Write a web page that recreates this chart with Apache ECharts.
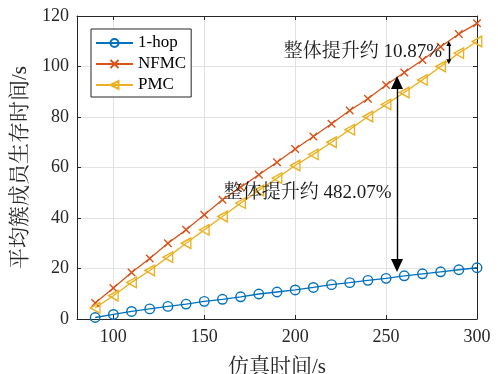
<!DOCTYPE html>
<html><head><meta charset="utf-8">
<script src="https://cdn.jsdelivr.net/npm/echarts@6/dist/echarts.min.js"></script>
<style>html,body{margin:0;padding:0;background:#fff}#c{width:498px;height:374px}</style>
</head><body><div id="c"></div>
<script>
const times = [90,100,110,120,130,140,150,160,170,180,190,200,210,220,230,240,250,260,270,280,290,300];
const hop1 = [0.6,1.8,3.0,4.0,5.0,5.9,7.0,7.8,8.8,9.9,10.7,11.5,12.5,13.6,14.4,15.3,16.1,17.1,17.9,18.7,19.5,20.3];
const nfmc = [6.3,12.3,18.4,24.0,30.0,35.3,41.3,47.2,52.2,57.1,62.1,67.3,72.3,77.3,82.6,87.2,92.7,97.6,102.6,107.8,112.9,117.1];
const pmc  = [4.4,9.2,14.5,19.2,24.5,30.0,35.3,40.6,45.9,50.9,55.8,60.8,65.2,70.0,75.0,80.2,85.0,89.7,94.7,100.0,105.3,109.9];
const seriesNames = ['1-hop','NFMC','PMC'];
const xTicks = [100,150,200,250,300];
const yTicks = [0,20,40,60,80,100,120];
// annotation anchors (data space)
const bigArrow = {x:256, y1:93.7, y2:21.2};
const smallArrow = {x:284.5, y1:109.1, y2:101.9};
const note1 = {x:237.2, y:105.9, text:'整体提升约 10.87%'};
const note2 = {x:206.9, y:50, text:'整体提升约 482.07%'};

const FONT = "'Liberation Serif','Noto Serif CJK SC','Noto Sans CJK SC',serif";
const AX = '#262626';
const colors = ['#0072BD','#D95319','#EDB120'];
const pair = arr => times.map((t,i)=>[t,arr[i]]);

const chart = echarts.init(document.getElementById('c'), null, {renderer:'canvas'});
const commonX = {
  type:'value', min:80, max:300,
  axisLine:{show:true, onZero:false, lineStyle:{color:AX, width:1}},
  axisTick:{show:true, inside:true, length:4, customValues:xTicks, lineStyle:{color:AX}},
  splitLine:{show:false}
};
const commonY = {
  type:'value', min:0, max:120, interval:20,
  axisLine:{show:true, onZero:false, lineStyle:{color:AX, width:1}},
  axisTick:{show:true, inside:true, length:4, lineStyle:{color:AX}},
  splitLine:{show:false}
};
chart.setOption({
  animation:false,
  textStyle:{fontFamily:FONT},
  grid:{left:77, right:21, top:16, bottom:55, show:false, containLabel:false, outerBoundsMode:'none'},
  legend:{
    orient:'vertical', left:91, top:29,
    data:seriesNames,
    itemWidth:37, itemHeight:10, itemGap:3,
    padding:[5,5,3,4],
    backgroundColor:'#fff', borderColor:AX, borderWidth:1,
    textStyle:{fontFamily:FONT, fontSize:17, color:'#000', lineHeight:18}
  },
  xAxis:[
    Object.assign({}, commonX, {
      position:'bottom',
      name:'仿真时间/s', nameLocation:'middle', nameGap:38,
      nameTextStyle:{fontFamily:FONT, fontSize:21, color:AX},
      axisLabel:{customValues:xTicks, fontFamily:FONT, fontSize:18, color:AX, margin:9},
      splitLine:{show:true, lineStyle:{color:'#e2e2e2', width:1}}
    }),
    Object.assign({}, commonX, {position:'top', axisLabel:{show:false}})
  ],
  yAxis:[
    Object.assign({}, commonY, {
      position:'left',
      name:'平均簇成员生存时间/s', nameLocation:'middle', nameGap:46,
      nameTextStyle:{fontFamily:FONT, fontSize:21, color:AX},
      axisLabel:{fontFamily:FONT, fontSize:18, color:AX, margin:8},
      splitLine:{show:true, lineStyle:{color:'#e2e2e2', width:1}}
    }),
    Object.assign({}, commonY, {position:'right', axisLabel:{show:false}})
  ],
  series:[
    {
      name:seriesNames[0], type:'line', data:pair(hop1),
      symbol:'circle', symbolSize:9.5, showAllSymbol:true,
      lineStyle:{color:colors[0], width:1.3},
      itemStyle:{color:'transparent', borderColor:colors[0], borderWidth:1.4}
    },
    {
      name:seriesNames[1], type:'line', data:pair(nfmc),
      symbol:'path://M0,0L10,10M0,10L10,0', symbolSize:7.5, showAllSymbol:true,
      lineStyle:{color:colors[1], width:1.3},
      itemStyle:{color:'transparent', borderColor:colors[1], borderWidth:1.4},
      markLine:{
        silent:true, symbol:['triangle','triangle'], symbolSize:[12,13],
        label:{show:false},
        lineStyle:{color:'#000', width:1.4, type:'solid'},
        data:[[{coord:[bigArrow.x,bigArrow.y1]},{coord:[bigArrow.x,bigArrow.y2]}]]
      },
      markPoint:{
        silent:true, symbol:'circle', symbolSize:0,
        label:{show:true, position:'inside', fontFamily:FONT, fontSize:19, color:'#1a1a1a', formatter:p=>p.name},
        data:[{name:note1.text, coord:[note1.x,note1.y]},{name:note2.text, coord:[note2.x,note2.y]}]
      }
    },
    {
      name:seriesNames[2], type:'line', data:pair(pmc),
      symbol:'path://M0,5L9,0L9,10Z', symbolSize:[9.5,10.5], showAllSymbol:true,
      lineStyle:{color:colors[2], width:1.3},
      itemStyle:{color:'transparent', borderColor:colors[2], borderWidth:1.4},
      markLine:{
        silent:true, symbol:['triangle','triangle'], symbolSize:[5,5],
        label:{show:false},
        lineStyle:{color:'#000', width:1.4, type:'solid'},
        data:[[{coord:[smallArrow.x,smallArrow.y1]},{coord:[smallArrow.x,smallArrow.y2]}]]
      }
    }
  ]
});
</script></body></html>
